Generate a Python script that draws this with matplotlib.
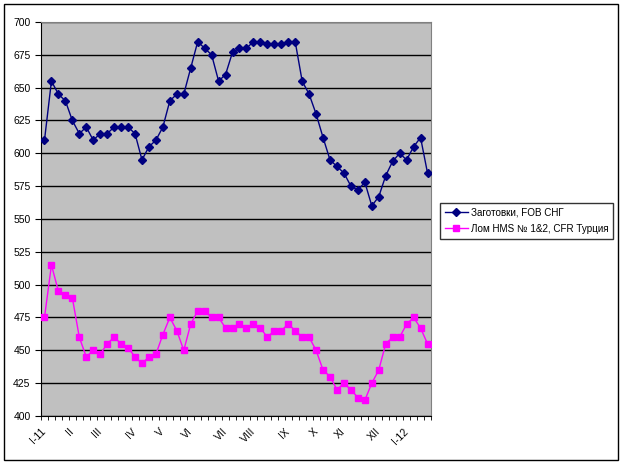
import matplotlib
matplotlib.use('Agg')
import matplotlib.pyplot as plt
from matplotlib.patches import Rectangle
from matplotlib.transforms import ScaledTranslation

plt.rcParams['font.family'] = ['Liberation Sans', 'DejaVu Sans']

# weekly prices, Jan 2011 - Feb 2012
billets = [610, 655, 645, 640, 625, 615, 620, 610, 615, 615,
           620, 620, 620, 615, 595, 605, 610, 620, 640, 645,
           645, 665, 685, 680, 675, 655, 660, 677, 680, 680,
           685, 685, 683, 683, 683, 685, 685, 655, 645, 630,
           612, 595, 590, 585, 575, 572, 578, 560, 567, 583,
           594, 600, 595, 605, 612, 585]
scrap = [475, 515, 495, 492, 490, 460, 445, 450, 447, 455,
         460, 455, 452, 445, 440, 445, 447, 462, 475, 465,
         450, 470, 480, 480, 475, 475, 467, 467, 470, 467,
         470, 467, 460, 465, 465, 470, 465, 460, 460, 450,
         435, 430, 420, 425, 420, 414, 412, 425, 435, 455,
         460, 460, 470, 475, 467, 455]
month_labels = ['I-11', 'II', 'III', 'IV', 'V', 'VI', 'VII', 'VIII',
                'IX', 'X', 'XI', 'XII', 'I-12']
month_idx = [0, 4, 8, 13, 17, 21, 26, 30, 35, 39, 43, 48, 52]
series_names = ['Заготовки, FOB СНГ', 'Лом HMS № 1&2, CFR Турция']

n = len(billets)
x = list(range(n))

fig = plt.figure(figsize=(6.25, 4.65), dpi=100)
ax = fig.add_axes([0.0656, 0.1054, 0.624, 0.8473])
ax.set_facecolor('#c0c0c0')

ax.plot(x, billets, color='#000080', marker='D', markersize=4, linewidth=1,
        label=series_names[0], zorder=3)
ax.plot(x, scrap, color='#ff00ff', marker='s', markersize=4, linewidth=1,
        label=series_names[1], zorder=3)

ax.set_xlim(-0.5, n - 0.5)
ax.set_ylim(400, 700)
ax.set_yticks(range(400, 701, 25))
ax.yaxis.grid(True, color='black', linewidth=1)
ax.set_axisbelow(True)

labels = [''] * n
for i, lab in zip(month_idx, month_labels):
    labels[i] = lab
ax.set_xticks(x)
ax.set_xticklabels(labels, rotation=45, ha='right', va='center',
                   rotation_mode='anchor', fontsize=7.5)
shift = ScaledTranslation(-0.04, -0.01, fig.dpi_scale_trans)
for t in ax.get_xticklabels():
    t.set_transform(t.get_transform() + shift)
ax.tick_params(axis='x', which='major', length=0, pad=10)
ax.set_xticks([i - 0.5 for i in range(n + 1)], minor=True)
ax.tick_params(axis='x', which='minor', length=3, color='black', direction='out')
ax.tick_params(axis='y', length=4, color='black', labelsize=7.5, direction='out')

for side in ['top', 'right']:
    ax.spines[side].set_color('#808080')
for side in ['left', 'bottom']:
    ax.spines[side].set_color('black')

leg = fig.legend(loc='upper left', bbox_to_anchor=(440 / 625, 1 - 203 / 465),
                 fontsize=7.1, frameon=True, fancybox=False, edgecolor='black',
                 borderpad=0.5, handlelength=2.3, handletextpad=0.3,
                 labelspacing=0.6, borderaxespad=0)
leg.get_frame().set_linewidth(1)

fig.patches.append(Rectangle((4 / 625, 1 - 460 / 465), 614 / 625, 456 / 465,
                             transform=fig.transFigure, fill=False,
                             edgecolor='black', linewidth=1))

fig.savefig('out.png', dpi=100, facecolor='white')
